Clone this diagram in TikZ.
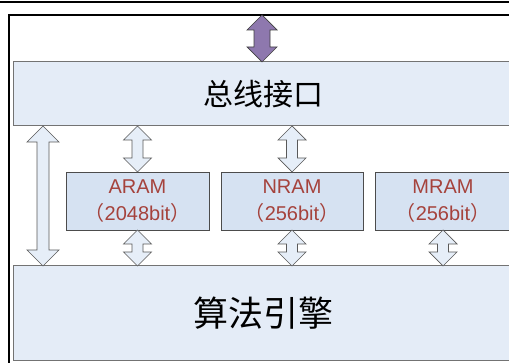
\documentclass[tikz,border=0pt]{standalone}
\usepackage{fontspec}
\setmainfont{Liberation Sans}
\newfontfamily\cjk{Noto Sans CJK SC}
\usetikzlibrary{calc}

\definecolor{boxfill}{RGB}{228,236,247}
\definecolor{ramfill}{RGB}{214,226,242}
\definecolor{arrowfill}{RGB}{230,238,248}
\definecolor{busarrowfill}{RGB}{142,120,174}
\definecolor{ramtext}{RGB}{165,66,60}

% vertical block double arrow: style, top end, bottom end, half head, half shaft
\newcommand{\blockarrow}[5]{%
  \draw[#1] let \p1=(#2), \p2=(#3) in
    (\x1,\y1) -- (\x1+#4,\y1-#4) -- (\x1+#5,\y1-#4) -- (\x1+#5,\y2+#4)
    -- (\x1+#4,\y2+#4) -- (\x1,\y2) -- (\x1-#4,\y2+#4) -- (\x1-#5,\y2+#4)
    -- (\x1-#5,\y1-#4) -- (\x1-#4,\y1-#4) -- cycle;}

\begin{document}
\begin{tikzpicture}[
    x=1pt, y=-1pt,
    frame/.style={line width=2pt, black},
    bigbox/.style={rectangle, draw=gray!90!black, line width=1pt, fill=boxfill, outer sep=0pt, anchor=north west},
    rambox/.style={rectangle, draw=black!70, line width=0.8pt, fill=ramfill, outer sep=0pt, anchor=north west,
        minimum height=58, align=center, text=ramtext, font=\fontsize{20}{27}\selectfont},
    ramarrow/.style={draw=black!65, line width=0.7pt, fill=arrowfill},
    busarrow/.style={draw=black!75, line width=0.7pt, fill=busarrowfill},
]
\clip (0,0) rectangle (509,363);

% frame
\draw[frame] (-5,2.5) -- (520,2.5);
\draw[frame] (8.5,380) |- (520,15);

% main blocks
\node[bigbox, minimum width=500, minimum height=64, font=\cjk\fontsize{30}{30}\selectfont] (bus) at (13,62) {总线接口};
\node[bigbox, minimum width=500, minimum height=95, font=\cjk\fontsize{35}{35}\selectfont] (engine) at (13,266) {算法引擎};

% RAM blocks
\node[rambox, minimum width=143] (aram) at (66,172) {ARAM\\{\cjk （}2048bit{\cjk ）}};
\node[rambox, minimum width=142] (nram) at (221,172) {NRAM\\{\cjk （}256bit{\cjk ）}};
\node[rambox, minimum width=136] (mram) at (375,172) {MRAM\\{\cjk （}256bit{\cjk ）}};

\coordinate (frametop) at (262,15);
\coordinate (side) at (43,0);

% arrows
\blockarrow{busarrow}{frametop}{bus.north}{15pt}{8pt}
\blockarrow{ramarrow}{bus.south -| side}{engine.north}{16pt}{6pt}
\foreach \ram in {aram, nram} {
  \blockarrow{ramarrow}{bus.south -| \ram}{\ram.north}{14pt}{5.5pt}
}
\foreach \ram in {aram, nram, mram} {
  \blockarrow{ramarrow}{\ram.south}{engine.north}{14pt}{5.5pt}
}

\end{tikzpicture}
\end{document}
